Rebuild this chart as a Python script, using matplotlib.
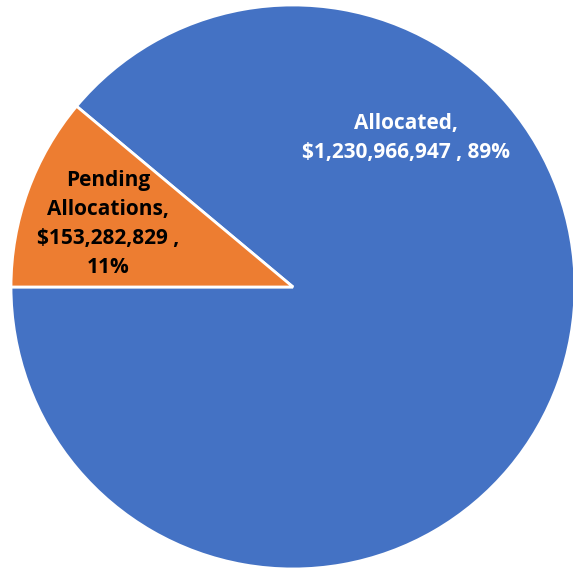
import matplotlib
matplotlib.use("Agg")
import matplotlib.pyplot as plt

# data
categories = ["Allocated", "Pending Allocations"]
amounts = [1230966947, 153282829]
label_texts = ["Allocated,\n$1,230,966,947 , 89%",
               "Pending\nAllocations,\n$153,282,829 ,\n11%"]
colors = ["#4472C4", "#ED7D31"]
text_colors = ["white", "black"]

fig = plt.figure(figsize=(5.73, 5.71), dpi=100)
ax = fig.add_axes([0.0192, 0.4974 - 0.49385, 0.9843, 0.9877])

wedges, _ = ax.pie(amounts, colors=colors, startangle=180, counterclock=True,
                   wedgeprops=dict(edgecolor="white", linewidth=2))
ax.set_xlim(-1, 1)
ax.set_ylim(-1, 1)
ax.set_aspect("equal")

# label positions (data coords)
label_pos = [(0.400, 0.530), (-0.656, 0.223)]
for txt, (x, y), c in zip(label_texts, label_pos, text_colors):
    ax.text(x, y, txt, ha="center", va="center", color=c, fontsize=15,
            fontweight="bold", family="Open Sans", linespacing=1.5)

fig.savefig("out.png", dpi=100)
